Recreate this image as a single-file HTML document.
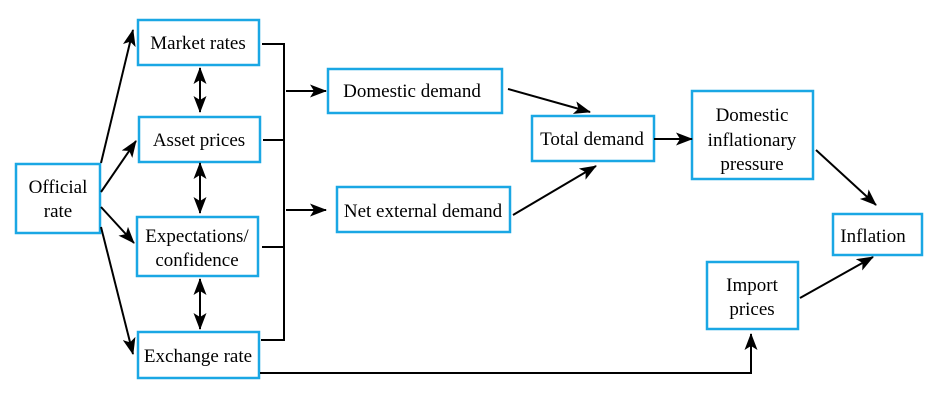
<!DOCTYPE html>
<html><head><style>
html,body{margin:0;padding:0;background:#fff;}
svg{display:block;}
text{font-family:"Liberation Serif",serif;font-size:19px;fill:#000;text-anchor:middle;}
.b{fill:#fff;stroke:#1aa7e4;stroke-width:2.5;}
.l{stroke:#000;stroke-width:2;fill:none;}
</style></head><body>
<svg width="937" height="413" viewBox="0 0 937 413">
<defs>
<marker id="A" markerWidth="17" markerHeight="13" refX="16" refY="6.5" orient="auto-start-reverse" markerUnits="userSpaceOnUse">
<path d="M0,0 L17,6.5 L0,13 L4,6.5 z" fill="#000"/>
</marker>
</defs>
<rect class="b" x="16" y="164" width="84" height="69"/>
<text x="58" y="193">Official</text><text x="58" y="217">rate</text>
<rect class="b" x="138" y="20" width="121" height="45"/><text x="198" y="49">Market rates</text>
<rect class="b" x="139" y="117" width="121" height="45"/><text x="199" y="146">Asset prices</text>
<rect class="b" x="137" y="217" width="121" height="59"/><text x="197" y="242">Expectations/</text><text x="197" y="266">confidence</text>
<rect class="b" x="138" y="332" width="121" height="46"/><text x="198" y="362">Exchange rate</text>
<rect class="b" x="328" y="69" width="174" height="44"/><text x="412" y="97">Domestic demand</text>
<rect class="b" x="337" y="187" width="173" height="45"/><text x="423" y="217">Net external demand</text>
<rect class="b" x="532" y="116" width="122" height="45"/><text x="592" y="145">Total demand</text>
<rect class="b" x="692" y="91" width="121" height="88"/><text x="752" y="121">Domestic</text><text x="752" y="146">inflationary</text><text x="752" y="170">pressure</text>
<rect class="b" x="833" y="214" width="89" height="41"/><text x="873" y="242">Inflation</text>
<rect class="b" x="707" y="262" width="91" height="67"/><text x="752" y="291">Import</text><text x="752" y="315">prices</text>
<line class="l" x1="101" y1="163" x2="133" y2="30" marker-end="url(#A)"/>
<line class="l" x1="101" y1="192" x2="136" y2="141" marker-end="url(#A)"/>
<line class="l" x1="101" y1="207" x2="134" y2="243" marker-end="url(#A)"/>
<line class="l" x1="101" y1="227" x2="133" y2="354" marker-end="url(#A)"/>
<line class="l" x1="200" y1="68" x2="200" y2="112" marker-start="url(#A)" marker-end="url(#A)"/>
<line class="l" x1="200" y1="163" x2="200" y2="213" marker-start="url(#A)" marker-end="url(#A)"/>
<line class="l" x1="200" y1="279" x2="200" y2="329" marker-start="url(#A)" marker-end="url(#A)"/>
<polyline class="l" points="262,44 284,44 284,340 261,340"/>
<line class="l" x1="263" y1="140" x2="284" y2="140"/>
<line class="l" x1="262" y1="247" x2="284" y2="247"/>
<line class="l" x1="286" y1="91" x2="326" y2="91" marker-end="url(#A)"/>
<line class="l" x1="286" y1="210" x2="326" y2="210" marker-end="url(#A)"/>
<line class="l" x1="508" y1="89" x2="590" y2="112" marker-end="url(#A)"/>
<line class="l" x1="513" y1="215" x2="596" y2="166" marker-end="url(#A)"/>
<line class="l" x1="654" y1="139" x2="692" y2="139" marker-end="url(#A)"/>
<line class="l" x1="816" y1="150" x2="876" y2="205" marker-end="url(#A)"/>
<line class="l" x1="800" y1="298" x2="873" y2="257" marker-end="url(#A)"/>
<polyline class="l" points="260,373 751,373 751,334" marker-end="url(#A)"/>
</svg>
</body></html>
